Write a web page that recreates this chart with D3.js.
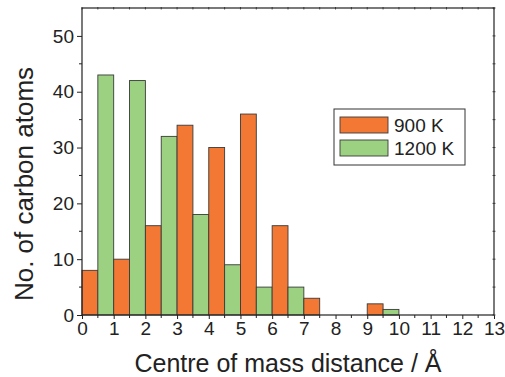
<!DOCTYPE html>
<html>
<head>
<meta charset="utf-8">
<script src="https://cdn.jsdelivr.net/npm/d3@7"></script>
<style>
  body { margin: 0; background: #fff; }
  text { font-family: "Liberation Sans", Arial, sans-serif; fill: #222; }
</style>
</head>
<body>
<svg id="chart" width="505" height="377"></svg>
<script>
// bin start positions (Å), bins are 1 Å wide, split into two half-bars
const binStarts = [0, 1, 2, 3, 4, 5, 6, 7, 8, 9, 10, 11, 12];
const counts900 = [8, 10, 16, 34, 30, 36, 16, 3, 0, 2, 0, 0, 0];
const counts1200 = [43, 42, 32, 18, 9, 5, 5, 0, 0, 1, 0, 0, 0];
const seriesNames = ['900 K', '1200 K'];
const xTicks = d3.range(0, 14);
const yTicks = [0, 10, 20, 30, 40, 50];

const colors = { '900 K': '#f27833', '1200 K': '#9bd181' };

const margin = { top: 8, left: 82, right: 11, bottom: 62 };
const width = 505 - margin.left - margin.right;
const height = 377 - margin.top - margin.bottom;

const svg = d3.select('#chart');
const g = svg.append('g').attr('transform', `translate(${margin.left},${margin.top})`);

const x = d3.scaleLinear().domain([0, 13]).range([0, width]);
const y = d3.scaleLinear().domain([0, 55]).range([height, 0]);

const bars = [];
binStarts.forEach((b, i) => {
  if (counts900[i] > 0) bars.push({ x0: b, x1: b + 0.5, v: counts900[i], s: '900 K' });
  if (counts1200[i] > 0) bars.push({ x0: b + 0.5, x1: b + 1, v: counts1200[i], s: '1200 K' });
});

g.selectAll('rect.bar')
  .data(bars)
  .enter()
  .append('rect')
  .attr('class', 'bar')
  .attr('x', d => x(d.x0))
  .attr('y', d => y(d.v))
  .attr('width', d => x(d.x1) - x(d.x0))
  .attr('height', d => y(0) - y(d.v))
  .attr('fill', d => colors[d.s])
  .attr('stroke', '#3a3a3a')
  .attr('stroke-width', 0.9);

// axes
const xAxis = d3.axisBottom(x).tickValues(xTicks).tickSize(4).tickPadding(3).tickFormat(d3.format('d'));
const yAxis = d3.axisLeft(y).tickValues(yTicks).tickSize(5).tickPadding(3);

const gx = g.append('g').attr('transform', `translate(0,${height})`).call(xAxis);
const gy = g.append('g').call(yAxis);

[gx, gy].forEach(a => {
  a.select('.domain').remove();
  a.selectAll('line').attr('stroke', '#222');
  a.selectAll('text').style('font-size', '19px').attr('fill', '#2a2a2a');
});

// minor ticks
const xMinor = d3.range(0.5, 13, 1);
const yMinor = d3.range(5, 55, 10);
g.append('g').selectAll('line').data(xMinor).enter().append('line')
  .attr('x1', d => x(d)).attr('x2', d => x(d))
  .attr('y1', height).attr('y2', height + 3).attr('stroke', '#222');
g.append('g').selectAll('line').data(yMinor).enter().append('line')
  .attr('x1', 0).attr('x2', -3)
  .attr('y1', d => y(d)).attr('y2', d => y(d)).attr('stroke', '#222');

// small ticks on top and right edges
g.append('g').selectAll('line').data(d3.range(0, 13.01, 0.5)).enter().append('line')
  .attr('x1', d => x(d)).attr('x2', d => x(d))
  .attr('y1', -1).attr('y2', 1.5).attr('stroke', '#555');
g.append('g').selectAll('line').data(d3.range(0, 55.01, 5)).enter().append('line')
  .attr('x1', width - 1.5).attr('x2', width + 1.5)
  .attr('y1', d => y(d)).attr('y2', d => y(d)).attr('stroke', '#555');

// frame
g.append('rect')
  .attr('width', width).attr('height', height)
  .attr('fill', 'none').attr('stroke', '#222').attr('stroke-width', 1.2);

// axis titles
svg.append('text')
  .attr('x', 288)
  .attr('y', 372)
  .attr('text-anchor', 'middle')
  .style('font-size', '25px')
  .text('Centre of mass distance / Å');

svg.append('text')
  .attr('transform', 'translate(33,184) rotate(-90)')
  .attr('text-anchor', 'middle')
  .style('font-size', '26px')
  .text('No. of carbon atoms');

// legend
const legend = svg.append('g').attr('transform', 'translate(334,109)');
legend.append('rect')
  .attr('width', 131).attr('height', 56)
  .attr('fill', '#fff').attr('stroke', '#333').attr('stroke-width', 1);
seriesNames.forEach((s, i) => {
  const row = legend.append('g').attr('transform', `translate(6,${8 + i * 23})`);
  row.append('rect')
    .attr('width', 48).attr('height', 16)
    .attr('fill', colors[s]).attr('stroke', '#3a3a3a').attr('stroke-width', 0.9);
  row.append('text')
    .attr('x', 54).attr('y', 15)
    .style('font-size', '19px')
    .text(s);
});
</script>
</body>
</html>
